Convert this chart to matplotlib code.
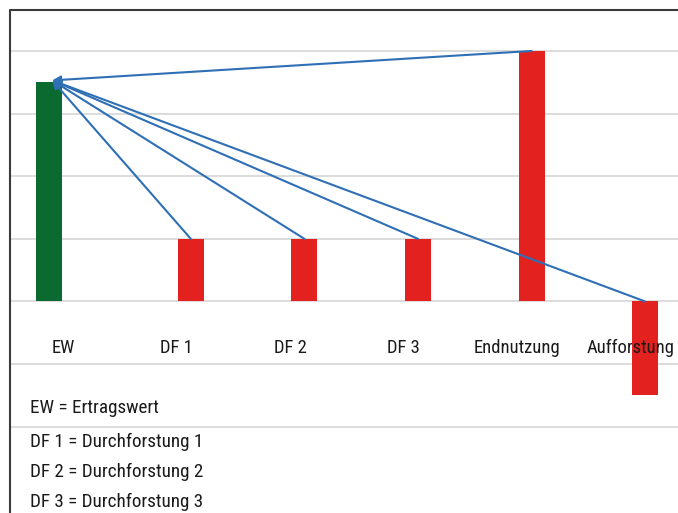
import matplotlib
matplotlib.use('Agg')
import matplotlib.pyplot as plt
from matplotlib import font_manager
from matplotlib.lines import Line2D
import numpy as np

categories = ['EW', 'DF 1', 'DF 2', 'DF 3', 'Endnutzung', 'Aufforstung']
ertragswert = [3.5, 0, 0, 0, 0, 0]
zahlungen = [0, 1, 1, 1, 4, -1.5]
legend_lines = ['EW = Ertragswert', 'DF 1 = Durchforstung 1',
                'DF 2 = Durchforstung 2', 'DF 3 = Durchforstung 3']

green = '#0b6a2f'
red = '#e3221f'
blue = '#2e6fb5'

# schmale Schrift wenn vorhanden
names = {f.name for f in font_manager.fontManager.ttflist}
font = 'Roboto'
for cand in ['Liberation Sans Narrow', 'Roboto Condensed', 'Open Sans Condensed']:
    if cand in names:
        font = cand
        break
plt.rcParams['font.family'] = [font, 'DejaVu Sans']

W, H = 678, 513
fig = plt.figure(figsize=(W / 100, H / 100), dpi=100)
renderer = fig.canvas.get_renderer()


def fit_size(text, target_px, base=14):
    t = fig.text(0, 0, text, fontsize=base)
    w = t.get_window_extent(renderer).width
    t.remove()
    return base * target_px / w


cat_size = fit_size('Endnutzung', 87)
leg_size = fit_size('DF 1 = Durchforstung 1', 175)

ax = fig.add_axes([10 / W, (H - 428) / H, 1 - 10 / W, 418 / H])

x = np.arange(len(categories))
off = 0.125
bw = 0.23
ax.bar(x - off, ertragswert, width=bw, color=green, zorder=2)
ax.bar(x + off, zahlungen, width=bw, color=red, zorder=2)

ax.set_xlim(-0.467, 5.414)
ax.set_ylim(-2.02, 4.654)
ax.set_yticks(np.arange(-2, 5, 1))
ax.grid(axis='y', color='#d9d9d9', linewidth=1.3, zorder=0)
ax.set_xticks([])
ax.tick_params(left=False, labelleft=False)
for s in ax.spines.values():
    s.set_visible(False)

# Pfeile zum Ertragswert
tip = (x[0] - off + 0.03, ertragswert[0] + 0.03)
for i in range(1, len(categories)):
    start = (x[i] + off, max(zahlungen[i], 0))
    ax.annotate('', xy=tip, xytext=start,
                arrowprops=dict(arrowstyle='-|>', color=blue, lw=1.5,
                                mutation_scale=12, shrinkA=0, shrinkB=0),
                zorder=4)

for i, c in enumerate(categories):
    ax.text(x[i], -0.74, c, ha='center', va='center', fontsize=cat_size,
            color='#1a1a1a', zorder=5)

for j, t in enumerate(legend_lines):
    y = [408, 442, 472, 502][j]
    fig.text(30 / W, 1 - y / H, t, ha='left', va='center', fontsize=leg_size,
             color='#1a1a1a')

# Rahmen
fig.add_artist(Line2D([10 / W, 10 / W, 1], [0, 1 - 10 / H, 1 - 10 / H],
                      transform=fig.transFigure, color='#3a3a3a', lw=1.5))

fig.savefig('out.png', dpi=100)
